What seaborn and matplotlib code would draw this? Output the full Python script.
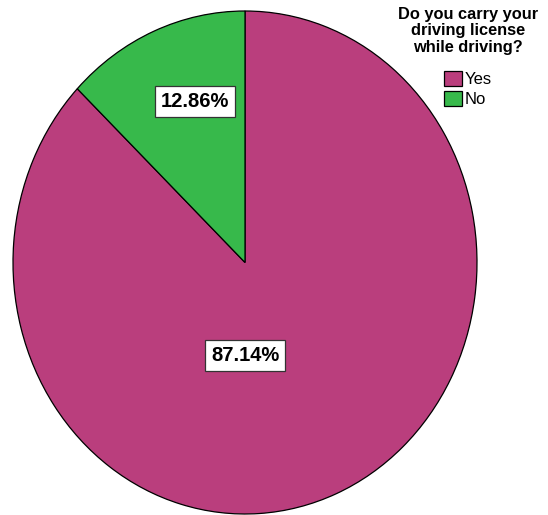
import matplotlib
matplotlib.use("Agg")
import matplotlib.pyplot as plt
from matplotlib.patches import Patch
import seaborn as sns

sns.set_style("white")
plt.rcParams["font.family"] = ["Liberation Sans", "DejaVu Sans"]
plt.rcParams["text.color"] = "black"

# Survey answers and their shares (percent)
categories = ["Yes", "No"]
shares = [87.14, 12.86]
colors = ["#BA3E7D", "#37B94B"]
legend_title = "Do you carry your\ndriving license\nwhile driving?"

fig = plt.figure(figsize=(5.48, 5.15), dpi=100)
ax = fig.add_axes([13 / 548, 1 / 515, 464 / 548, 503 / 515])

wedges, _ = ax.pie(
    shares,
    colors=colors,
    startangle=90,
    counterclock=False,
    wedgeprops=dict(edgecolor="black", linewidth=0.9),
)
ax.set_aspect("auto")
ax.set_xlim(-1, 1)
ax.set_ylim(-1, 1)
ax.axis("off")

# Percentage labels in white boxes
label_pos = {"No": (-0.215, 0.64), "Yes": (0.0, -0.37)}
for cat, val in zip(categories, shares):
    x, y = label_pos[cat]
    ax.text(
        x, y, f"{val:.2f}%",
        ha="center", va="center",
        fontsize=14.5, fontweight="bold", color="black",
        bbox=dict(boxstyle="square,pad=0.3", facecolor="white",
                  edgecolor="#333333", linewidth=0.9),
    )

# Legend title, drawn as its own centred text block
fig.text(
    468 / 548, 1 - 7 / 515, legend_title,
    ha="center", va="top", multialignment="center",
    fontsize=11.8, fontweight="bold", color="black", linespacing=1.12,
)

handles = [Patch(facecolor=c, edgecolor="black", linewidth=0.9) for c in colors]
leg = fig.legend(
    handles, categories,
    loc="upper center",
    bbox_to_anchor=(468 / 548, 1 - 58 / 515),
    frameon=False,
    fontsize=12,
    labelcolor="black",
    handlelength=1.1,
    handleheight=1.0,
    handletextpad=0.15,
    labelspacing=0.2,
    borderpad=0.3,
)

fig.savefig("out.png", dpi=100)
